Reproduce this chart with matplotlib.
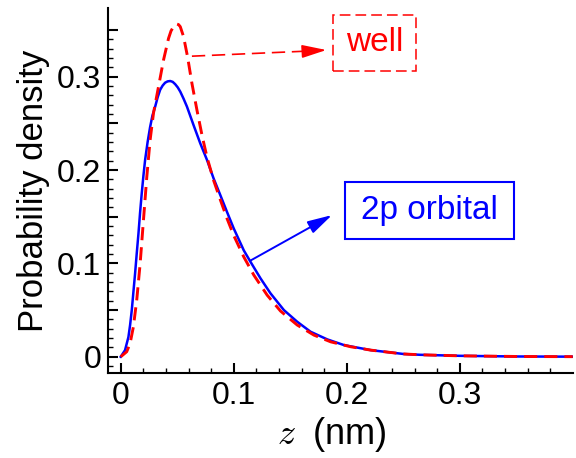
import matplotlib
matplotlib.use("Agg")
import matplotlib.pyplot as plt
from matplotlib.patches import Rectangle
from matplotlib.ticker import FixedLocator, FuncFormatter

plt.rcParams["font.family"] = ["Liberation Sans", "DejaVu Sans"]
plt.rcParams["mathtext.fontset"] = "cm"

# 2p orbital probability density vs z (nm)
z_2p = [0.0, 0.0038, 0.0068, 0.0083, 0.0098, 0.0112, 0.0127, 0.0142, 0.0157,
        0.0171, 0.0186, 0.0201, 0.0216, 0.0238, 0.026, 0.028, 0.0305, 0.0327,
        0.0349, 0.0371, 0.0393, 0.0415, 0.0438, 0.046, 0.0482, 0.0505, 0.0527,
        0.0556, 0.0586, 0.0645, 0.0704, 0.0763, 0.0822, 0.0882, 0.0941, 0.1,
        0.1089, 0.1148, 0.1237, 0.1325, 0.1444, 0.1562, 0.168, 0.1828, 0.1976,
        0.2213, 0.25, 0.265, 0.3, 0.35, 0.4]
p_2p = [0.0, 0.007, 0.021, 0.034, 0.050, 0.069, 0.089, 0.111, 0.132,
        0.154, 0.175, 0.194, 0.211, 0.230, 0.246, 0.258, 0.268, 0.278,
        0.286, 0.2905, 0.2936, 0.2950, 0.2954, 0.2945, 0.292, 0.2885, 0.284,
        0.2765, 0.268, 0.248, 0.2286, 0.211, 0.191, 0.173, 0.155, 0.1375,
        0.114, 0.1018, 0.084, 0.068, 0.050, 0.0375, 0.0268, 0.0186, 0.0125,
        0.0071, 0.003, 0.0021, 0.001, 0.0003, 0.0001]

# well-state probability density
z_well = [0.0, 0.0053, 0.0083, 0.0112, 0.0142, 0.0172, 0.0201, 0.0231, 0.026,
          0.029, 0.0334, 0.0379, 0.0423, 0.0445, 0.0467, 0.0482, 0.0497,
          0.0512, 0.0527, 0.0556, 0.0592, 0.063, 0.0675, 0.0719, 0.0763,
          0.0822, 0.0882, 0.0941, 0.1, 0.1089, 0.1178, 0.1296, 0.1414, 0.1562,
          0.171, 0.1858, 0.2036, 0.2213, 0.25, 0.265, 0.3, 0.35, 0.4]
p_well = [0.0, 0.0054, 0.0143, 0.032, 0.061, 0.100, 0.146, 0.193, 0.232,
          0.261, 0.289, 0.318, 0.341, 0.349, 0.3536, 0.3558, 0.3564,
          0.3558, 0.3536, 0.343, 0.321, 0.293, 0.264, 0.2375, 0.214,
          0.189, 0.168, 0.148, 0.130, 0.107, 0.0875, 0.066, 0.049, 0.034,
          0.0232, 0.016, 0.0107, 0.0071, 0.003, 0.0021, 0.001, 0.0003, 0.0001]

x_ticks = [0.0, 0.1, 0.2, 0.3]
y_ticks = [0.0, 0.05, 0.1, 0.15, 0.2, 0.25, 0.3, 0.35]

fig = plt.figure(figsize=(5.76, 4.58), dpi=100)
ax = fig.add_axes([0.188, 0.1862, 0.8063, 0.7957])

ax.plot(z_2p, p_2p, color="#0000ff", lw=1.8, zorder=3)
ax.plot(z_well, p_well, color="#ff0000", lw=2.1, ls=(0, (4.5, 2.4)), zorder=4)

ax.set_xlim(-0.011, 0.4)
ax.set_ylim(-0.0171, 0.3733)

for side in ("top", "right"):
    ax.spines[side].set_visible(False)
for side in ("left", "bottom"):
    ax.spines[side].set_linewidth(1.5)

ax.xaxis.set_major_locator(FixedLocator(x_ticks))
ax.xaxis.set_minor_locator(FixedLocator([i * 0.02 for i in range(20) if i % 5]))
ax.yaxis.set_major_locator(FixedLocator(y_ticks))
ax.yaxis.set_minor_locator(FixedLocator([i * 0.01 for i in range(-1, 35) if i % 5]))


def fmt(v, pos):
    if abs(v) < 1e-9:
        return "0"
    if abs(v * 10 - round(v * 10)) > 1e-6:
        return ""
    return "%.1f" % v


ax.xaxis.set_major_formatter(FuncFormatter(fmt))
ax.yaxis.set_major_formatter(FuncFormatter(fmt))

ax.tick_params(which="both", direction="in", top=False, right=False)
ax.tick_params(which="major", length=7.5, width=1.5, labelsize=23)
ax.tick_params(which="minor", length=3.5, width=1.0)
ax.tick_params(axis="x", which="major", pad=6)
ax.tick_params(axis="y", which="major", pad=5)

ax.set_xlabel(r"$z\;$ (nm)", fontsize=26)
ax.set_ylabel("Probability density", fontsize=25, labelpad=5)
ax.xaxis.set_label_coords(0.481, -0.115)

# "well" label with dashed frame and dashed arrow
ax.add_patch(Rectangle((0.1879, 0.3064), 0.0736, 0.0597, fill=False,
                       ec="#ff0000", lw=1.1, ls=(0, (7, 3.3)), clip_on=False))
ax.text(0.2247, 0.3363, "well", color="#ff0000", fontsize=24,
        ha="center", va="center")
ax.plot([0.063, 0.170], [0.322, 0.3277], color="#ff0000", lw=1.2,
        ls=(0, (8, 4)))
ax.annotate("", xy=(0.182, 0.3286), xytext=(0.165, 0.3274),
            arrowprops=dict(arrowstyle="-|>,head_length=1.5,head_width=0.4",
                            color="#ff0000", lw=1.2, shrinkA=0, shrinkB=0))

# "2p orbital" label with solid frame and arrow
ax.add_patch(Rectangle((0.1982, 0.1261), 0.1502, 0.0608, fill=False,
                       ec="#0000ff", lw=1.5, clip_on=False))
ax.text(0.2733, 0.1564, "2p orbital", color="#0000ff", fontsize=24,
        ha="center", va="center")
ax.annotate("", xy=(0.187, 0.1518), xytext=(0.1146, 0.1029),
            arrowprops=dict(arrowstyle="-|>,head_length=1.5,head_width=0.4",
                            color="#0000ff", lw=1.4, shrinkA=0, shrinkB=0))

fig.savefig("out.png", dpi=100)
